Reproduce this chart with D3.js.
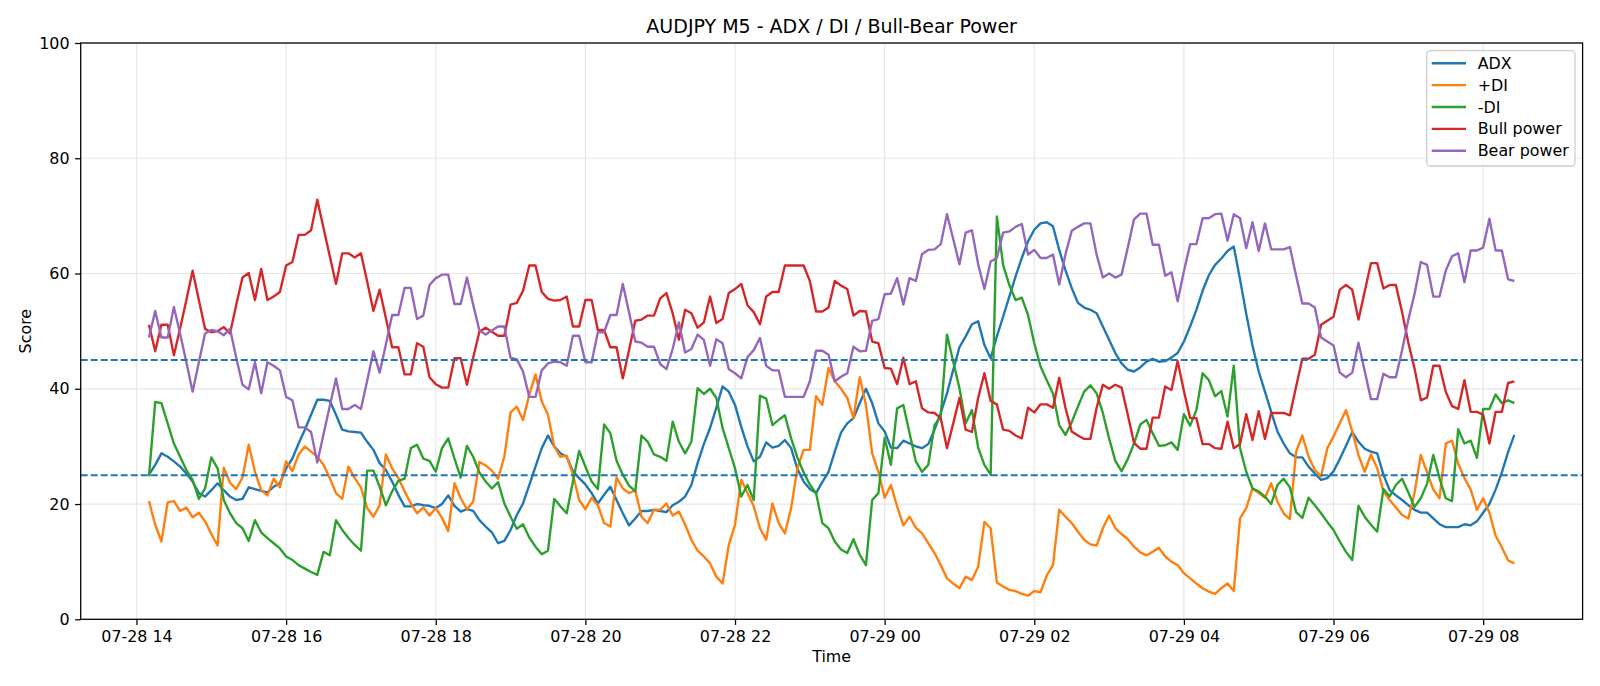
<!DOCTYPE html>
<html>
<head>
<meta charset="utf-8">
<style>
    body {
        margin: 0;
        background-color: #ffffff;
    }

    svg {
        display: block;
        font-family: "DejaVu Sans", sans-serif;
    }

    .grid line {
        stroke: #e6e6e6;
        stroke-width: 1.2;
    }

    .axis line {
        stroke: #000;
        stroke-width: 1.27;
    }

    .axis path {
        display: none;
    }

    .axis text {
        fill: #000;
        font-size: 15.9px;
        font-family: "DejaVu Sans", sans-serif;
    }
</style>
</head>
<body>
<svg id="chart" width="1600" height="686">
    <defs>
        <clipPath id="plotClip">
            <rect id="clipRect"></rect>
        </clipPath>
    </defs>
    <g id="grid"></g>
    <g id="series"></g>
    <g id="levels"></g>
    <g id="xAxis"></g>
    <g id="yAxis"></g>
    <g id="frame"></g>
    <g id="legend"></g>
</svg>
<script src="https://cdn.jsdelivr.net/npm/d3@7"></script>
<script>
// M5 bars, first bar at 14:10
const startTime = "2025-07-28T14:10:00"
const stepMinutes = 5

const seriesNames = ["ADX", "+DI", "-DI", "Bull power", "Bear power"]
const seriesColors = ["#1f77b4", "#ff7f0e", "#2ca02c", "#d62728", "#9467bd"]

const adx = [
    25.1, 26.8, 28.8, 28.2, 27.4, 26.5, 25.3, 23.9, 21.9, 21.3, 22.4, 23.6, 22.4, 21.3, 20.7, 20.9, 22.9, 22.6, 22.3, 22.0, 23.0, 23.6,
    26.2, 27.9, 30.5, 32.9, 35.5, 38.1, 38.1, 37.9, 35.5, 32.9, 32.6, 32.5, 32.4, 30.8, 29.4, 27.1, 25.9, 23.9, 21.6, 19.6, 19.6, 20.0, 19.8,
    19.7, 19.3, 20.0, 21.5, 19.7, 18.7, 19.1, 18.8, 17.2, 16.1, 15.1, 13.2, 13.6, 15.5, 18.1, 20.1, 23.3, 26.5, 29.7, 31.9, 30.0, 28.8,
    28.2, 25.7, 24.5, 23.4, 21.9, 20.1, 21.6, 23.0, 20.7, 18.4, 16.3, 17.5, 18.8, 18.8, 19.0, 18.8, 18.6, 19.8, 20.4, 21.3, 23.3, 27.1,
    30.4, 33.2, 36.7, 40.4, 39.5, 37.2, 33.4, 30.0, 27.4, 28.2, 30.7, 29.8, 30.1, 31.1, 29.7, 26.1, 23.9, 22.6, 21.9, 23.8, 25.6, 29.1, 32.4,
    34.0, 34.9, 37.5, 40.0, 37.5, 34.0, 32.6, 29.8, 29.7, 31.0, 30.5, 30.0, 29.7, 30.4, 32.9, 35.8, 39.2, 43.3, 47.2, 49.1, 51.2, 51.7,
    47.6, 45.3, 49.1, 52.5, 56.0, 59.5, 62.7, 65.6, 67.6, 68.7, 68.9, 68.2, 64.1, 60.6, 57.5, 54.9, 54.1, 53.7, 53.1, 50.8, 48.5, 46.2, 44.4,
    43.3, 43.0, 43.7, 44.7, 45.2, 44.7, 44.8, 45.4, 46.2, 48.2, 50.8, 53.7, 57.0, 59.7, 61.5, 62.6, 63.9, 64.7, 59.0, 53.0, 47.5, 43.0,
    39.5, 36.0, 32.6, 30.5, 28.8, 28.1, 28.1, 26.5, 25.3, 24.2, 24.5, 25.7, 27.8, 30.1, 32.5, 30.8, 29.6, 29.1, 28.8, 25.1, 22.4, 21.5, 20.7,
    19.8, 19.0, 18.5, 18.5, 17.5, 16.5, 16.0, 16.0, 16.0, 16.5, 16.3, 17.0, 18.5, 20.0, 22.5, 25.5, 29.0, 32.0
]

const plusDI = [
    20.5, 16.4, 13.5, 20.3, 20.5, 18.8, 19.4, 17.7, 18.5, 17.0, 14.8, 12.8, 26.3, 23.7, 22.6, 24.6, 30.3, 25.6, 22.4, 21.5, 24.4, 22.9,
    27.4, 25.7, 28.6, 30.0, 29.1, 28.2, 26.8, 24.5, 21.9, 20.9, 26.5, 24.5, 22.9, 19.3, 17.8, 19.8, 28.6, 26.2, 24.5, 22.2, 20.1, 18.4, 19.4,
    18.0, 19.3, 17.6, 15.3, 23.6, 21.0, 19.1, 20.4, 27.3, 26.7, 25.8, 24.4, 28.2, 35.9, 36.9, 34.6, 39.0, 42.5, 37.8, 35.5, 30.0, 28.2,
    28.4, 25.1, 20.7, 19.1, 21.1, 19.8, 16.7, 16.1, 24.6, 22.7, 21.9, 22.4, 17.8, 16.7, 19.0, 19.0, 20.1, 18.0, 18.7, 16.4, 13.8, 11.9,
    10.9, 9.7, 7.4, 6.2, 12.9, 16.4, 24.2, 21.9, 19.6, 15.8, 13.8, 20.1, 16.7, 14.9, 19.3, 26.2, 29.4, 29.4, 38.7, 37.2, 43.6, 41.3, 40.0,
    38.4, 34.9, 42.0, 37.2, 28.8, 25.6, 21.1, 23.3, 19.6, 16.3, 17.8, 15.9, 14.9, 13.2, 11.5, 9.4, 7.1, 6.2, 5.4, 7.4, 6.8, 9.1,
    16.9, 15.8, 6.4, 5.7, 5.1, 4.9, 4.4, 4.1, 4.9, 4.7, 7.6, 9.4, 19.0, 17.8, 16.7, 15.2, 13.8, 13.0, 12.8, 15.8, 18.0, 15.8, 14.8,
    13.9, 12.6, 11.6, 11.1, 11.7, 12.4, 10.9, 10.0, 9.4, 8.0, 7.1, 6.2, 5.4, 4.8, 4.4, 5.4, 6.2, 4.9, 17.5, 19.3, 22.7, 21.9,
    21.1, 23.6, 20.4, 18.4, 17.4, 29.1, 31.9, 28.2, 25.9, 24.8, 29.7, 31.7, 34.0, 36.3, 32.6, 28.5, 25.6, 28.6, 26.2, 22.2, 20.7, 19.4, 18.1,
    17.5, 22.0, 28.5, 25.5, 22.5, 21.0, 30.5, 31.0, 27.0, 24.5, 22.5, 19.0, 21.0, 18.5, 14.5, 12.5, 10.2, 9.7
]

const minusDI = [
    24.8, 37.7, 37.5, 34.0, 30.5, 28.2, 25.9, 24.2, 20.9, 22.7, 28.1, 26.2, 20.7, 18.4, 16.7, 15.8, 13.6, 17.2, 15.1, 14.1, 13.2, 12.3,
    10.9, 10.3, 9.4, 8.8, 8.2, 7.7, 11.7, 11.1, 17.2, 15.5, 14.1, 12.9, 11.9, 25.8, 25.8, 23.0, 19.8, 22.2, 24.0, 24.4, 29.7, 30.3, 27.9,
    27.5, 25.6, 29.7, 31.4, 27.9, 24.6, 30.1, 28.2, 25.5, 23.9, 22.7, 23.8, 20.1, 17.8, 15.7, 16.5, 14.2, 12.6, 11.3, 11.9, 20.9, 19.6,
    18.4, 23.9, 29.2, 26.5, 23.9, 22.6, 33.8, 32.3, 27.5, 25.1, 23.2, 22.2, 31.9, 30.8, 28.6, 28.2, 27.5, 34.3, 30.8, 28.8, 30.8, 40.1,
    39.1, 40.0, 38.4, 33.2, 29.7, 26.2, 21.3, 23.3, 20.7, 38.8, 38.3, 33.7, 34.6, 35.4, 31.4, 28.1, 25.5, 23.4, 21.9, 16.7, 15.8, 13.5, 12.1,
    11.5, 13.9, 11.2, 9.4, 20.7, 21.9, 31.5, 26.8, 36.6, 37.2, 32.3, 27.4, 25.6, 26.8, 33.7, 35.2, 49.4, 44.7, 40.1, 34.0, 36.3, 29.8,
    26.8, 25.1, 69.9, 61.5, 58.0, 55.4, 55.8, 52.8, 47.9, 43.9, 41.5, 39.2, 33.7, 32.0, 34.2, 36.9, 39.5, 40.6, 39.2, 35.8, 31.4, 27.5, 25.7,
    27.8, 30.5, 33.8, 34.6, 32.3, 30.1, 30.2, 30.7, 29.4, 35.6, 33.6, 36.3, 42.7, 41.5, 38.7, 39.6, 35.2, 44.0, 29.7, 25.6, 22.7, 22.2,
    21.3, 20.0, 23.3, 24.4, 22.9, 18.6, 17.6, 21.1, 19.8, 18.4, 16.9, 15.5, 13.5, 11.7, 10.3, 19.7, 17.8, 16.4, 15.2, 22.6, 21.3, 23.3, 24.4,
    22.0, 19.5, 21.0, 23.5, 28.5, 24.5, 21.0, 20.5, 33.0, 30.5, 31.0, 28.0, 36.5, 36.5, 39.0, 37.5, 38.0, 37.5
]

const bullPower = [
    51.1, 46.5, 51.1, 51.1, 45.8, 50.5, 55.4, 60.5, 55.4, 50.4, 49.8, 50.0, 50.7, 49.6, 54.6, 59.3, 60.1, 55.4, 60.8, 55.4, 56.0, 56.8,
    61.4, 62.0, 66.7, 66.7, 67.5, 72.8, 67.9, 63.0, 58.2, 63.5, 63.5, 62.8, 63.5, 58.6, 53.5, 57.2, 52.3, 47.2, 47.2, 42.5, 42.5, 47.9, 47.3,
    42.0, 40.8, 40.2, 40.2, 45.3, 45.3, 40.7, 45.4, 49.9, 50.6, 49.9, 49.2, 49.2, 54.6, 54.9, 57.0, 61.4, 61.4, 56.8, 55.6, 55.3, 55.4,
    56.0, 50.8, 50.8, 55.4, 55.4, 50.2, 50.2, 47.2, 47.2, 41.8, 46.7, 51.8, 52.0, 52.7, 52.7, 55.7, 56.6, 53.1, 48.5, 53.7, 53.1, 50.6,
    51.5, 56.0, 51.4, 52.1, 56.6, 57.3, 58.2, 54.5, 53.3, 51.2, 56.0, 56.8, 56.8, 61.4, 61.4, 61.4, 61.4, 58.7, 53.4, 53.4, 54.1, 58.7, 57.9,
    57.3, 52.7, 53.5, 53.4, 48.2, 47.9, 43.6, 43.5, 40.8, 45.4, 40.8, 41.3, 36.6, 35.9, 35.8, 34.9, 29.7, 34.0, 38.4, 32.9, 32.5, 38.4,
    42.7, 37.9, 37.3, 32.9, 32.7, 31.9, 31.4, 36.7, 35.9, 37.3, 37.3, 36.7, 41.9, 36.7, 32.6, 31.9, 31.3, 31.3, 36.7, 40.7, 40.0, 40.7, 40.2,
    35.5, 30.6, 29.6, 29.6, 35.0, 35.0, 40.4, 39.8, 44.8, 39.6, 34.9, 34.9, 30.4, 30.4, 29.7, 29.6, 34.3, 29.7, 30.4, 35.6, 31.1, 36.1,
    31.3, 35.8, 35.8, 35.8, 35.4, 40.4, 45.2, 45.2, 45.9, 51.1, 51.8, 52.5, 57.2, 58.0, 57.2, 52.0, 56.9, 61.8, 61.8, 57.4, 58.0, 58.0, 53.3,
    48.0, 43.5, 38.0, 38.5, 44.0, 44.0, 39.5, 37.0, 36.5, 41.5, 36.0, 36.0, 35.5, 30.5, 36.0, 36.0, 41.0, 41.3
]

const bearPower = [
    48.9, 53.5, 48.9, 48.9, 54.2, 49.5, 44.6, 39.5, 44.6, 49.6, 50.2, 50.0, 49.3, 50.4, 45.4, 40.7, 39.9, 44.6, 39.2, 44.6, 44.0, 43.2,
    38.6, 38.0, 33.3, 33.3, 32.5, 27.2, 32.1, 37.0, 41.8, 36.5, 36.5, 37.2, 36.5, 41.4, 46.5, 42.8, 47.7, 52.8, 52.8, 57.5, 57.5, 52.1, 52.7,
    58.0, 59.2, 59.8, 59.8, 54.7, 54.7, 59.3, 54.6, 50.1, 49.4, 50.1, 50.8, 50.8, 45.4, 45.1, 43.0, 38.6, 38.6, 43.2, 44.4, 44.7, 44.6,
    44.0, 49.2, 49.2, 44.6, 44.6, 49.8, 49.8, 52.8, 52.8, 58.2, 53.3, 48.2, 48.0, 47.3, 47.3, 44.3, 43.4, 46.9, 51.5, 46.3, 46.9, 49.4,
    48.5, 44.0, 48.6, 47.9, 43.4, 42.7, 41.8, 45.5, 46.7, 48.8, 44.0, 43.2, 43.2, 38.6, 38.6, 38.6, 38.6, 41.3, 46.6, 46.6, 45.9, 41.3, 42.1,
    42.7, 47.3, 46.5, 46.6, 51.8, 52.1, 56.4, 56.5, 59.2, 54.6, 59.2, 58.7, 63.4, 64.1, 64.2, 65.1, 70.3, 66.0, 61.6, 67.1, 67.5, 61.6,
    57.3, 62.1, 62.7, 67.1, 67.3, 68.1, 68.6, 63.3, 64.1, 62.7, 62.7, 63.3, 58.1, 63.3, 67.4, 68.1, 68.7, 68.7, 63.3, 59.3, 60.0, 59.3, 59.8,
    64.5, 69.4, 70.4, 70.4, 65.0, 65.0, 59.6, 60.2, 55.2, 60.4, 65.1, 65.1, 69.6, 69.6, 70.3, 70.4, 65.7, 70.3, 69.6, 64.4, 68.9, 63.9,
    68.7, 64.2, 64.2, 64.2, 64.6, 59.6, 54.8, 54.8, 54.1, 48.9, 48.2, 47.5, 42.8, 42.0, 42.8, 48.0, 43.1, 38.2, 38.2, 42.6, 42.0, 42.0, 46.7,
    52.0, 56.5, 62.0, 61.5, 56.0, 56.0, 60.5, 63.0, 63.5, 58.5, 64.0, 64.0, 64.5, 69.5, 64.0, 64.0, 59.0, 58.7
]

const yTicks = [0, 20, 40, 60, 80, 100]
const levelLines = [45, 25]
const tickEveryHours = 2

let margin = { left: 80.7, right: 1582.6, top: 43, bottom: 619.3 }
let svg = d3.select("#chart")

let t0 = new Date(startTime)
let times = adx.map((d, i) => new Date(t0.getTime() + i * stepMinutes * 60000))
let tFirst = times[0].getTime()
let tLast = times[times.length - 1].getTime()
let pad = (tLast - tFirst) * 0.05

let xScale = d3.scaleTime()
    .domain([new Date(tFirst - pad), new Date(tLast + pad)])
    .range([margin.left, margin.right])

let yScale = d3.scaleLinear()
    .domain([0, 100])
    .range([margin.bottom, margin.top])

d3.select("#clipRect")
    .attr("x", margin.left)
    .attr("y", margin.top)
    .attr("width", margin.right - margin.left)
    .attr("height", margin.bottom - margin.top)

let xTickValues = xScale.ticks(d3.timeHour.every(tickEveryHours))

// grid
let grid = d3.select("#grid").attr("class", "grid")
grid.selectAll("line.gx")
    .data(xTickValues)
    .enter().append("line")
    .attr("class", "gx")
    .attr("x1", d => xScale(d)).attr("x2", d => xScale(d))
    .attr("y1", margin.top).attr("y2", margin.bottom)
grid.selectAll("line.gy")
    .data(yTicks)
    .enter().append("line")
    .attr("class", "gy")
    .attr("x1", margin.left).attr("x2", margin.right)
    .attr("y1", d => yScale(d)).attr("y2", d => yScale(d))

// series lines
let allSeries = [adx, plusDI, minusDI, bullPower, bearPower]
let line = d3.line()
    .x((d, i) => xScale(times[i]))
    .y(d => yScale(d))

d3.select("#series")
    .attr("clip-path", "url(#plotClip)")
    .selectAll("path")
    .data(allSeries)
    .enter().append("path")
    .attr("d", d => line(d))
    .attr("fill", "none")
    .attr("stroke", (d, i) => seriesColors[i])
    .attr("stroke-width", 2.38)
    .attr("stroke-linejoin", "round")
    .attr("stroke-linecap", "butt")

// threshold lines
d3.select("#levels")
    .selectAll("line")
    .data(levelLines)
    .enter().append("line")
    .attr("x1", margin.left).attr("x2", margin.right)
    .attr("y1", d => yScale(d)).attr("y2", d => yScale(d))
    .attr("stroke", "#1f77b4")
    .attr("stroke-width", 1.9)
    .attr("stroke-dasharray", "7,3")

// axes
let xAxis = d3.axisBottom(xScale)
    .tickValues(xTickValues)
    .tickFormat(d3.timeFormat("%m-%d %H"))
    .tickSize(5.6)
    .tickPadding(5.6)
d3.select("#xAxis")
    .attr("class", "axis")
    .attr("transform", `translate(0, ${margin.bottom})`)
    .call(xAxis)

let yAxis = d3.axisLeft(yScale)
    .tickValues(yTicks)
    .tickSize(5.6)
    .tickPadding(5.6)
d3.select("#yAxis")
    .attr("class", "axis")
    .attr("transform", `translate(${margin.left}, 0)`)
    .call(yAxis)

d3.select("#frame").append("rect")
    .attr("x", margin.left)
    .attr("y", margin.top)
    .attr("width", margin.right - margin.left)
    .attr("height", margin.bottom - margin.top)
    .attr("fill", "none")
    .attr("stroke", "#000")
    .attr("stroke-width", 1.27)

// titles
let midX = (margin.left + margin.right) / 2
svg.append("text")
    .text("AUDJPY M5 - ADX / DI / Bull-Bear Power")
    .attr("x", midX).attr("y", 33)
    .attr("text-anchor", "middle")
    .style("font-size", "19px")

svg.append("text")
    .text("Time")
    .attr("x", midX).attr("y", 662)
    .attr("text-anchor", "middle")
    .style("font-size", "15.9px")

svg.append("text")
    .text("Score")
    .attr("text-anchor", "middle")
    .attr("transform", `translate(31, ${(margin.top + margin.bottom) / 2}) rotate(-90)`)
    .style("font-size", "15.9px")

// legend
let legend = d3.select("#legend")
legend.append("rect")
    .attr("x", 1426.7).attr("y", 50.7)
    .attr("width", 148.3).attr("height", 115.3)
    .attr("rx", 3.5)
    .attr("fill", "#fff").attr("fill-opacity", 0.8)
    .attr("stroke", "#cccccc").attr("stroke-width", 1.27)

let items = legend.selectAll("g.item")
    .data(seriesNames)
    .enter().append("g")
    .attr("class", "item")
    .attr("transform", (d, i) => `translate(1431.7, ${63.3 + i * 21.85})`)
items.append("line")
    .attr("x1", 0).attr("x2", 34.3)
    .attr("stroke", (d, i) => seriesColors[i])
    .attr("stroke-width", 2.38)
items.append("text")
    .text(d => d)
    .attr("x", 46)
    .attr("y", 5.6)
    .style("font-size", "15.9px")
</script>
</body>
</html>
